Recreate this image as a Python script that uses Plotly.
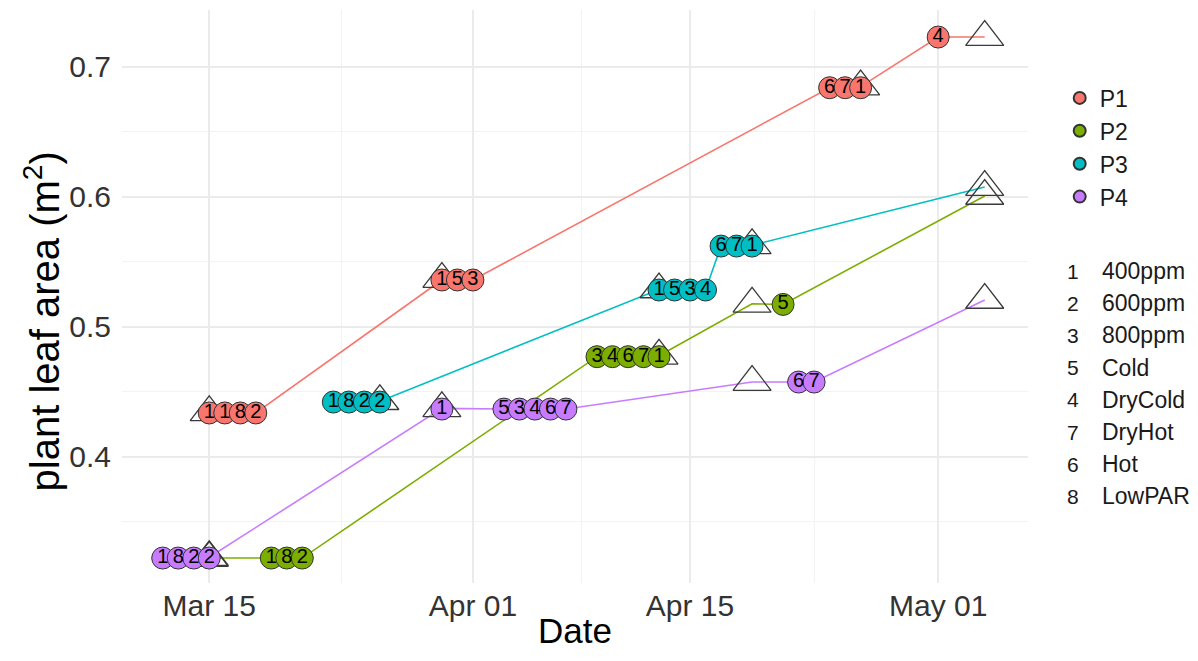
import plotly.graph_objects as go
import pandas as pd

# ---------------- data ----------------
series_names = ["P1", "P2", "P3", "P4"]
series_colors = ["#F8766D", "#7CAE00", "#00BFC4", "#C77CFF"]

# circles (labelled with treatment code)
p1_dates = ["2021-03-15", "2021-03-16", "2021-03-17", "2021-03-18",
            "2021-03-30", "2021-03-31", "2021-04-01",
            "2021-04-24", "2021-04-25", "2021-04-26", "2021-05-01"]
p1_vals = [0.4335, 0.4335, 0.4335, 0.4335, 0.5358, 0.5358, 0.5358,
           0.6837, 0.6837, 0.6837, 0.7227]
p1_labels = ["1", "1", "8", "2", "1", "5", "3", "6", "7", "1", "4"]

p2_dates = ["2021-03-19", "2021-03-20", "2021-03-21",
            "2021-04-09", "2021-04-10", "2021-04-11", "2021-04-12", "2021-04-13",
            "2021-04-21"]
p2_vals = [0.3219, 0.3219, 0.3219, 0.4768, 0.4768, 0.4768, 0.4768, 0.4768, 0.5170]
p2_labels = ["1", "8", "2", "3", "4", "6", "7", "1", "5"]

p3_dates = ["2021-03-23", "2021-03-24", "2021-03-25", "2021-03-26",
            "2021-04-13", "2021-04-14", "2021-04-15", "2021-04-16",
            "2021-04-17", "2021-04-18", "2021-04-19"]
p3_vals = [0.4419, 0.4419, 0.4419, 0.4419, 0.5281, 0.5281, 0.5281, 0.5281,
           0.5619, 0.5619, 0.5619]
p3_labels = ["1", "8", "2", "2", "1", "5", "3", "4", "6", "7", "1"]

p4_dates = ["2021-03-12", "2021-03-13", "2021-03-14", "2021-03-15",
            "2021-03-30",
            "2021-04-03", "2021-04-04", "2021-04-05", "2021-04-06", "2021-04-07",
            "2021-04-22", "2021-04-23"]
p4_vals = [0.3219, 0.3219, 0.3219, 0.3219, 0.4365,
           0.4365, 0.4365, 0.4365, 0.4365, 0.4365, 0.4573, 0.4573]
p4_labels = ["1", "8", "2", "2", "1", "5", "3", "4", "6", "7", "6", "7"]

# open triangles
p1_tri_dates = ["2021-03-15", "2021-03-30", "2021-04-26", "2021-05-04"]
p1_tri_vals = [0.4340, 0.5365, 0.6845, 0.7227]
p2_tri_dates = ["2021-03-15", "2021-04-13", "2021-04-19", "2021-05-04"]
p2_tri_vals = [0.3219, 0.4775, 0.5175, 0.6004]
p3_tri_dates = ["2021-03-26", "2021-04-13", "2021-04-19", "2021-05-04"]
p3_tri_vals = [0.4425, 0.5285, 0.5625, 0.6073]
p4_tri_dates = ["2021-03-15", "2021-03-30", "2021-04-19", "2021-05-04"]
p4_tri_vals = [0.3225, 0.4370, 0.4573, 0.5204]

# treatment key legend
key_codes = ["1", "2", "3", "5", "4", "7", "6", "8"]
key_names = ["400ppm", "600ppm", "800ppm", "Cold", "DryCold", "DryHot", "Hot", "LowPAR"]

x_ticks = ["2021-03-15", "2021-04-01", "2021-04-15", "2021-05-01"]
x_ticktext = ["Mar 15", "Apr 01", "Apr 15", "May 01"]
x_minor = ["2021-03-23 12:00", "2021-04-08", "2021-04-23"]
y_ticks = [0.4, 0.5, 0.6, 0.7]
y_minor = [0.35, 0.45, 0.55, 0.65]

circles = [(p1_dates, p1_vals, p1_labels), (p2_dates, p2_vals, p2_labels),
           (p3_dates, p3_vals, p3_labels), (p4_dates, p4_vals, p4_labels)]
triangles = [(p1_tri_dates, p1_tri_vals), (p2_tri_dates, p2_tri_vals),
             (p3_tri_dates, p3_tri_vals), (p4_tri_dates, p4_tri_vals)]

FONT = "Liberation Sans, Arial, Helvetica, sans-serif"

fig = go.Figure()

# lines through every observation, ordered by date
for name, col, (cd, cv, _), (td, tv) in zip(series_names, series_colors, circles, triangles):
    df = pd.DataFrame({"d": pd.to_datetime(cd + td), "v": cv + tv})
    df = df.sort_values("d", kind="stable")
    fig.add_trace(go.Scatter(x=df["d"], y=df["v"], mode="lines",
                             line=dict(color=col, width=1.6),
                             showlegend=False, hoverinfo="skip", legendgroup=name))

# open triangles
for name, (td, tv) in zip(series_names, triangles):
    fig.add_trace(go.Scatter(x=pd.to_datetime(td), y=tv, mode="markers",
                             marker=dict(symbol="triangle-up-open", size=33,
                                         color="#3a3a3a", line=dict(width=1.3, color="#3a3a3a")),
                             showlegend=False, legendgroup=name))

# filled circles
for name, col, (cd, cv, _) in zip(series_names, series_colors, circles):
    fig.add_trace(go.Scatter(x=pd.to_datetime(cd), y=cv, mode="markers", name=name,
                             marker=dict(symbol="circle", size=22, color=col,
                                         line=dict(width=1, color="#333333")),
                             legendgroup=name))

# treatment numbers
for name, (cd, cv, cl) in zip(series_names, circles):
    fig.add_trace(go.Scatter(x=pd.to_datetime(cd), y=cv, mode="text", text=cl,
                             textposition="middle center",
                             textfont=dict(family=FONT, size=20, color="black"),
                             showlegend=False, hoverinfo="skip", legendgroup=name))

# treatment key (second legend) as text
annotations = []
row0 = 0.5445
step = 0.0562
for i, (k, n) in enumerate(zip(key_codes, key_names)):
    y = row0 - i * step
    annotations.append(dict(xref="paper", yref="paper", x=1.0497, y=y, text=k,
                            showarrow=False, xanchor="center", yanchor="middle",
                            font=dict(family=FONT, size=21, color="#1a1a1a")))
    annotations.append(dict(xref="paper", yref="paper", x=1.0795, y=y, text=n,
                            showarrow=False, xanchor="left", yanchor="middle",
                            font=dict(family=FONT, size=23, color="#1a1a1a")))

# axis titles
annotations.append(dict(xref="paper", yref="paper", x=-0.088, y=0.457,
                        text="plant leaf area (m<sup>2</sup>)", textangle=-90,
                        showarrow=False, xanchor="center", yanchor="middle",
                        font=dict(family=FONT, size=40, color="black")))
annotations.append(dict(xref="paper", yref="paper", x=0.5, y=-0.083,
                        text="Date", showarrow=False, xanchor="center", yanchor="middle",
                        font=dict(family=FONT, size=35, color="black")))

fig.update_layout(
    width=1182, height=645,
    margin=dict(l=114, r=162, t=2, b=70),
    paper_bgcolor="white", plot_bgcolor="white",
    font=dict(family=FONT, color="#1a1a1a"),
    showlegend=True,
    legend=dict(x=1.035, y=0.884, xanchor="left", yanchor="top",
                font=dict(family=FONT, size=23, color="#1a1a1a"),
                bgcolor="rgba(0,0,0,0)", tracegroupgap=0, itemsizing="constant"),
    annotations=annotations,
    xaxis=dict(
        type="date", automargin=False,
        range=["2021-03-09 09:00", "2021-05-06 19:00"],
        tickvals=x_ticks, ticktext=x_ticktext,
        tickfont=dict(family=FONT, size=30, color="#333333"),
        showgrid=True, gridcolor="#EBEBEB", gridwidth=1.6,
        minor=dict(tickvals=x_minor, showgrid=True, gridcolor="#F3F3F3", gridwidth=1),
        zeroline=False, showline=False, ticks="", ticklabelstandoff=2,
    ),
    yaxis=dict(
        automargin=False,
        range=[0.3027, 0.7435],
        tickvals=y_ticks, ticktext=["0.4", "0.5", "0.6", "0.7"],
        tickfont=dict(family=FONT, size=30, color="#333333"),
        showgrid=True, gridcolor="#EBEBEB", gridwidth=1.6,
        minor=dict(tickvals=y_minor, showgrid=True, gridcolor="#F3F3F3", gridwidth=1),
        zeroline=False, showline=False, ticks="", ticklabelstandoff=10,
    ),
)

fig.write_html("out.html")
